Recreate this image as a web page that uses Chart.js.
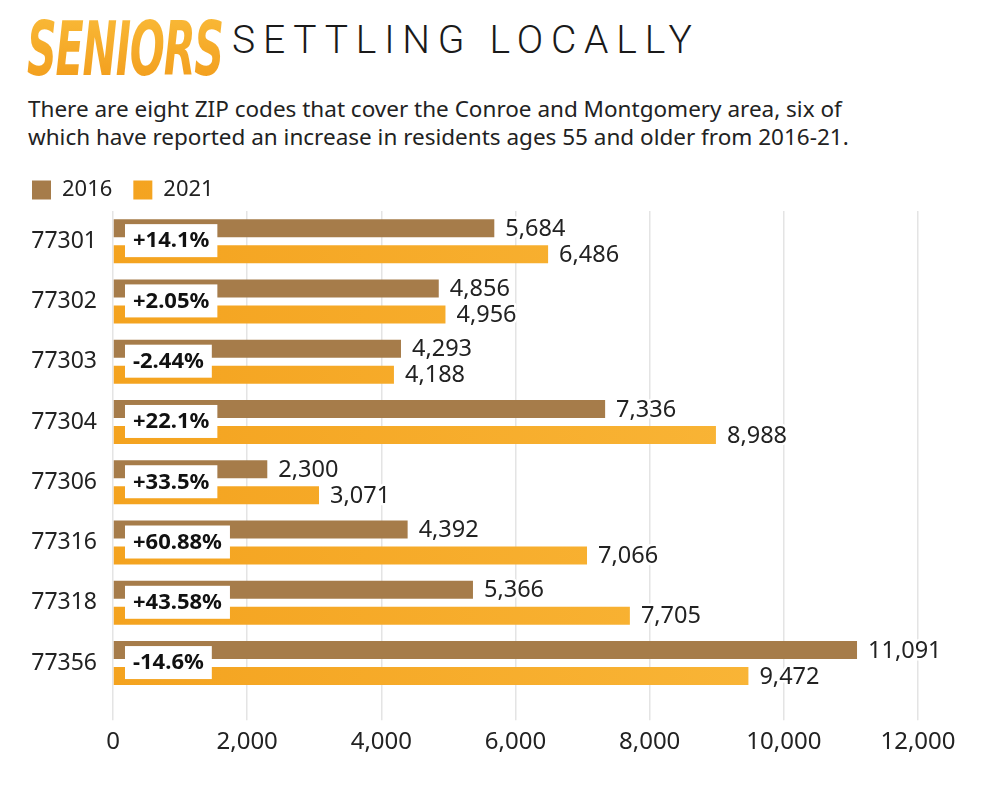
<!DOCTYPE html>
<html>
<head>
<meta charset="utf-8">
<title>Seniors settling locally</title>
<script src="https://cdn.jsdelivr.net/npm/chart.js@4.4.1/dist/chart.umd.min.js"></script>
<style>
  html, body { margin: 0; padding: 0; background: #fff; }
  body {
    width: 1000px; height: 785px; position: relative; overflow: hidden;
    font-family: "Noto Sans", sans-serif; color: #222;
  }
  #kicker {
    position: absolute; left: 27px; top: 12px;
    font-family: "DejaVu Sans Condensed", sans-serif; font-weight: bold; font-style: italic;
    font-size: 74px; line-height: 1; letter-spacing: -2px;
    background: linear-gradient(#f9ba38, #f29c1b);
    -webkit-background-clip: text; background-clip: text; color: transparent;
    transform-origin: 0 0; transform: scaleX(0.62);
  }
  #headline {
    position: absolute; left: 232px; top: 17px;
    font-family: Roboto, sans-serif; font-weight: 300; font-size: 39px;
    letter-spacing: 7.8px; color: #1a1a1a;
  }
  #subtitle {
    position: absolute; left: 28px; top: 95px;
    font-size: 22.5px; line-height: 28px; color: #222;
  }
  #wrap { position: absolute; left: 0; top: 158px; width: 1000px; height: 627px; }
</style>
</head>
<body>
<div id="kicker">SENIORS</div>
<div id="headline">SETTLING LOCALLY</div>
<div id="subtitle">There are eight ZIP codes that cover the Conroe and Montgomery area, six of<br>which have reported an increase in residents ages 55 and older from 2016-21.</div>
<div id="wrap"><canvas id="seniorsChart"></canvas></div>
<script>
const zipCodes = ["77301", "77302", "77303", "77304", "77306", "77316", "77318", "77356"];
const residents2016 = [5684, 4856, 4293, 7336, 2300, 4392, 5366, 11091];
const residents2021 = [6486, 4956, 4188, 8988, 3071, 7066, 7705, 9472];
const changeLabels = ["+14.1%", "+2.05%", "-2.44%", "+22.1%", "+33.5%", "+60.88%", "+43.58%", "-14.6%"];
const xTickValues = [0, 2000, 4000, 6000, 8000, 10000, 12000];

const brown = "#a67c4a";

// orange bars get a slight left-to-right gradient
function orangeFill(context) {
  const area = context.chart.chartArea;
  if (!area) return "#f5a623";
  const g = context.chart.ctx.createLinearGradient(area.left, 0, area.right, 0);
  g.addColorStop(0, "#f4a31f");
  g.addColorStop(1, "#fab93c");
  return g;
}

// value labels at bar ends + percent-change boxes
const barLabels = {
  id: "barLabels",
  afterDatasetsDraw(chart) {
    const ctx = chart.ctx;
    ctx.save();
    ctx.textBaseline = "middle";
    ctx.textAlign = "left";
    ctx.lineJoin = "round";
    ctx.font = "23.5px 'Noto Sans'";
    chart.data.datasets.forEach((ds, i) => {
      chart.getDatasetMeta(i).data.forEach((bar, j) => {
        const text = ds.data[j].toLocaleString("en-US");
        ctx.strokeStyle = "#fff";
        ctx.lineWidth = 5;
        ctx.strokeText(text, bar.x + 11, bar.y + 1);
        ctx.fillStyle = "#222";
        ctx.fillText(text, bar.x + 11, bar.y + 1);
      });
    });

    ctx.font = "bold 22px 'Noto Sans'";
    const left = chart.chartArea.left;
    changeLabels.forEach((label, j) => {
      const y = chart.scales.y.getPixelForValue(j);
      const w = ctx.measureText(label).width + 16;
      ctx.fillStyle = "#fff";
      ctx.fillRect(left + 12, y - 17, w, 33);
      ctx.fillStyle = "#111";
      ctx.fillText(label, left + 20, y);
    });
    ctx.restore();
  }
};

const chartData = {
  labels: zipCodes,
  datasets: [
    {
      label: "2016",
      data: residents2016,
      backgroundColor: brown,
      barPercentage: 0.692,
      categoryPercentage: 0.863,
    },
    {
      label: "2021",
      data: residents2021,
      backgroundColor: orangeFill,
      barPercentage: 0.692,
      categoryPercentage: 0.863,
    },
  ],
};

new Chart(document.getElementById("seniorsChart"), {
  type: "bar",
  data: chartData,
  options: {
    indexAxis: "y",
    responsive: true,
    maintainAspectRatio: false,
    animation: false,
    layout: { padding: { left: 11, right: 82, top: 0, bottom: 20 } },
    scales: {
      x: {
        min: 0,
        max: 12000,
        afterBuildTicks: (scale) => {
          scale.ticks = xTickValues.map((v) => ({ value: v }));
        },
        ticks: {
          color: "#222",
          font: { family: "Noto Sans", size: 24 },
          padding: 8,
          callback: (v) => v.toLocaleString("en-US"),
        },
        grid: { color: "#e4e4e4", lineWidth: 1.5, tickLength: 27 },
        border: { display: false },
      },
      y: {
        grid: { display: false, drawTicks: false },
        border: { display: false },
        ticks: {
          color: "#222",
          font: { family: "Noto Sans", size: 23 },
          padding: 16,
        },
        afterFit: (scale) => {
          scale.width = 102;
        },
      },
    },
    plugins: {
      legend: {
        align: "start",
        labels: {
          boxWidth: 19,
          boxHeight: 19,
          padding: 21,
          color: "#222",
          font: { family: "Noto Sans", size: 22 },
        },
      },
      tooltip: { enabled: false },
    },
  },
  plugins: [barLabels],
});
</script>
</body>
</html>
